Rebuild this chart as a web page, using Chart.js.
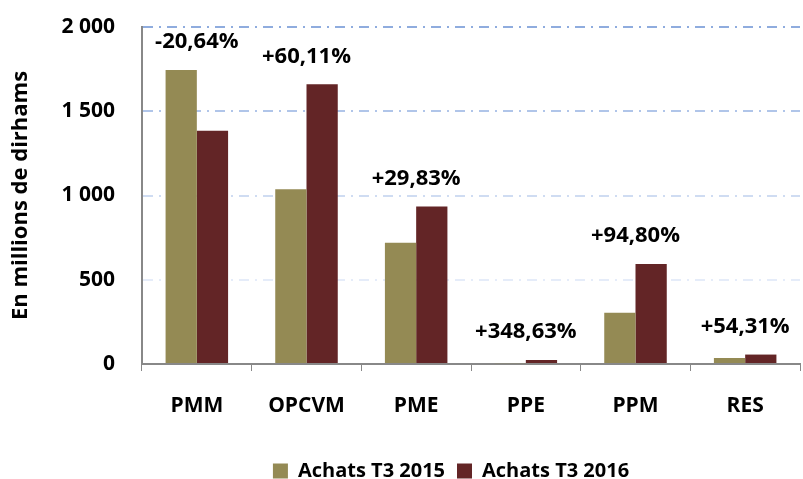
<!DOCTYPE html>
<html>
<head>
<meta charset="utf-8">
<script src="https://cdn.jsdelivr.net/npm/chart.js@4"></script>
<style>
  html, body { margin: 0; padding: 0; background: #fff; }
  #wrap { width: 803px; height: 479px; }
</style>
</head>
<body>
<div id="wrap"><canvas id="myChart" width="803" height="479"></canvas></div>
<script>
var categories = ['PMM', 'OPCVM', 'PME', 'PPE', 'PPM', 'RES'];
var achats2015 = [1745, 1037, 720, 5, 304, 36];
var achats2016 = [1385, 1660, 935, 23, 593, 56];
var variations = ['-20,64%', '+60,11%', '+29,83%', '+348,63%', '+94,80%', '+54,31%'];
var yTicks = [0, 500, 1000, 1500, 2000];

var fontFamily = '"Open Sans", "Noto Sans", sans-serif';
var gridColors = {
    2000: 'rgba(143,172,222,1)',
    1500: 'rgba(150,178,226,0.75)',
    1000: 'rgba(160,185,230,0.5)',
    500: 'rgba(170,192,234,0.3)'
};

// variation labels above each pair of bars
var variationLabels = {
    id: 'variationLabels',
    afterLayout: function (chart) {
        // legend sits a bit right of the canvas centre
        chart.legend.left += 51;
        chart.legend.right += 51;
    },
    afterDatasetsDraw: function (chart) {
        var ctx = chart.ctx;
        var x = chart.scales.x;
        var y = chart.scales.y;
        ctx.save();
        ctx.font = 'bold 22px ' + fontFamily;
        ctx.fillStyle = '#000';
        ctx.textAlign = 'center';
        ctx.textBaseline = 'bottom';
        categories.forEach(function (c, i) {
            var top = Math.max(achats2015[i], achats2016[i]);
            ctx.fillText(variations[i], x.getPixelForValue(i), y.getPixelForValue(top) - 17);
        });
        ctx.restore();
    }
};

var ctx = document.getElementById('myChart').getContext('2d');
var myChart = new Chart(ctx, {
    type: 'bar',
    data: {
        labels: categories,
        datasets: [{
            label: 'Achats T3 2015',
            data: achats2015,
            backgroundColor: '#948A54'
        },
        {
            label: 'Achats T3 2016',
            data: achats2016,
            backgroundColor: '#632526'
        }]
    },
    options: {
        responsive: false,
        animation: false,
        layout: {
            padding: { top: 27, right: 3, left: 0, bottom: -12 }
        },
        datasets: {
            bar: { categoryPercentage: 0.57, barPercentage: 1 }
        },
        plugins: {
            legend: {
                position: 'bottom',
                labels: {
                    boxWidth: 15,
                    boxHeight: 15,
                    padding: 12,
                    color: '#000',
                    font: { family: fontFamily, size: 20, weight: 'bold' }
                }
            },
            tooltip: { enabled: false }
        },
        scales: {
            x: {
                afterFit: function (scale) { scale.height = 85; },
                grid: {
                    offset: true,
                    drawOnChartArea: false,
                    drawTicks: true,
                    tickLength: 7,
                    color: '#888'
                },
                border: { color: '#888', width: 2 },
                ticks: {
                    padding: 22,
                    color: '#000',
                    font: { family: fontFamily, size: 21, weight: 'bold' }
                }
            },
            y: {
                min: 0,
                max: 2000,
                afterFit: function (scale) {
                    scale.width = 142;
                    scale.paddingTop = 0;
                    scale.paddingBottom = 0;
                },
                afterBuildTicks: function (scale) {
                    scale.ticks = yTicks.map(function (v) { return { value: v }; });
                },
                grid: {
                    drawTicks: false,
                    lineWidth: 2,
                    color: function (c) { return gridColors[c.tick.value] || 'rgba(0,0,0,0)'; }
                },
                border: { color: '#888', width: 2, dash: [10, 6, 2, 6] },
                ticks: {
                    padding: 27,
                    color: '#000',
                    font: { family: fontFamily, size: 21, weight: 'bold' },
                    callback: function (v) {
                        return String(v).replace(/\B(?=(\d{3})+(?!\d))/g, ' ');
                    }
                },
                title: {
                    display: true,
                    text: 'En millions de dirhams',
                    color: '#000',
                    padding: { top: 8, bottom: 0 },
                    font: { family: fontFamily, size: 22, weight: 'bold' }
                }
            }
        }
    },
    plugins: [variationLabels]
});
</script>
</body>
</html>
